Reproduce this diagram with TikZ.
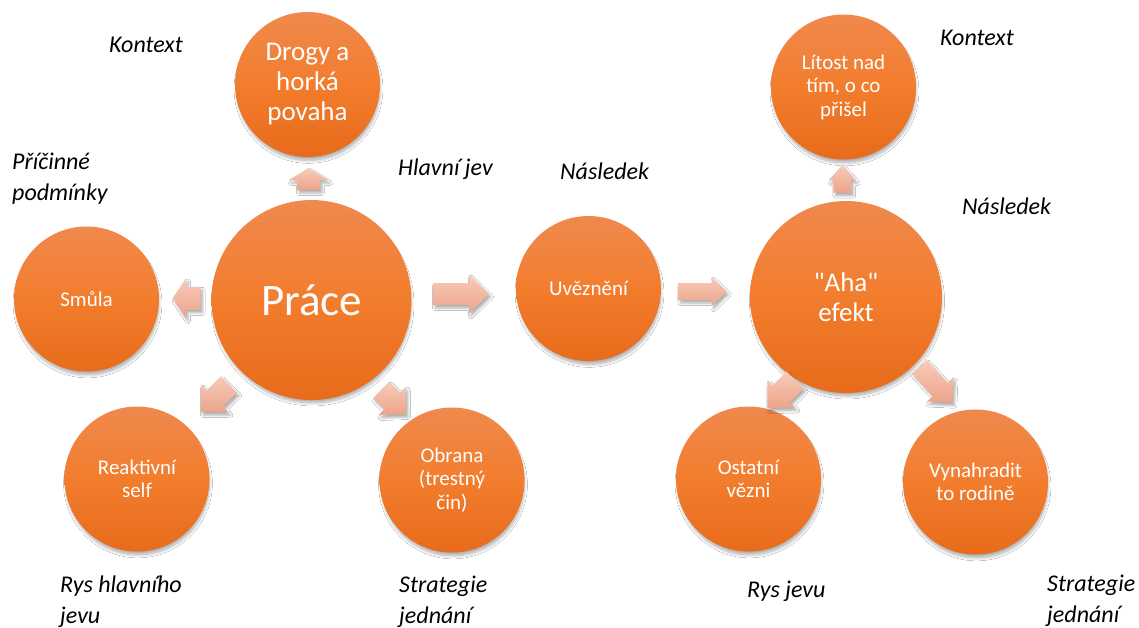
\documentclass[tikz,border=0pt]{standalone}
\usepackage{fontspec}
\setmainfont{Carlito}
\newfontfamily\plainquote{Carlito}[Ligatures=ResetAll]
\usetikzlibrary{calc,shadows.blur}
\definecolor{orTop}{HTML}{F0894E}
\definecolor{orMid}{HTML}{F27D2D}
\definecolor{orBot}{HTML}{E76B1B}
\definecolor{arTop}{HTML}{F8CBB9}
\definecolor{arBot}{HTML}{EBA48B}
\tikzset{
  circ/.style={circle, inner sep=0pt, text=white, align=center,
    top color=orTop, bottom color=orBot, middle color=orMid,
    blur shadow={shadow xshift=1pt, shadow yshift=-4.5pt, shadow scale=0.985, shadow blur radius=3pt, shadow blur steps=8, shadow opacity=32}},
  smalltxt/.style={font=\fontsize{21}{23.5}\selectfont},
  bigtxt/.style={font=\fontsize{27}{30}\selectfont},
  hugetxt/.style={font=\fontsize{45}{50}\selectfont},
  lbl/.style={font=\fontsize{24}{31}\selectfont\itshape, align=left, inner sep=0pt, anchor=base west},
  arr/.style={top color=arTop, bottom color=arBot, draw=none,
    blur shadow={shadow xshift=2pt, shadow yshift=-3pt, shadow blur radius=2.5pt, shadow opacity=32}},
}
\newcommand\sq{{\plainquote\symbol{34}}}
% #1 tail-middle coordinate, #2 tip coordinate, #3 half head width, #4 half shaft width, #5 head length
\newcommand\blockarrow[5]{%
  \coordinate (hb) at ($(#2)!#5!(#1)$);
  \path[arr] ($(#1)!#4!90:(#2)$) -- ($(hb)!#4!90:(#2)$) -- ($(hb)!#3!90:(#2)$) -- (#2)
    -- ($(hb)!#3!-90:(#2)$) -- ($(hb)!#4!-90:(#2)$) -- ($(#1)!#4!-90:(#2)$) -- cycle;
}
\begin{document}
\begin{tikzpicture}[x=1pt, y=-1pt]
\fill[white] (0,0) rectangle (1139,627);
\useasboundingbox (0,0) rectangle (1139,627);

% circles
\node[circ, minimum size=145pt, bigtxt] (drogy) at (307.5,84.5) {Drogy a\\horká\\povaha};
\node[circ, minimum size=200pt, hugetxt] (prace) at (311.5,300) {Práce};
\node[circ, minimum size=145pt, smalltxt] (smula) at (86.5,299) {Smůla};
\node[circ, minimum size=145pt, smalltxt] (reakt) at (137,479) {Reaktivní\\self};
\node[circ, minimum size=145pt, smalltxt] (obrana) at (452,480) {Obrana\\(trestný\\čin)};
\node[circ, minimum size=145pt, smalltxt] (uvez) at (588.5,288.5) {Uvěznění};
\node[circ, minimum size=145pt, smalltxt] (litost) at (843.5,87) {Lítost nad\\tím, o co\\přišel};
\node[circ, minimum size=192pt, bigtxt] (aha) at (846,297) {\sq Aha\sq\\efekt};
\node[circ, minimum size=145pt, smalltxt] (ostatni) at (748.5,479) {Ostatní\\vězni};
\node[circ, minimum size=145pt, smalltxt] (vynah) at (975.5,482) {Vynahradit\\to rodině};

% arrow end points
\coordinate (a1t) at (308.5,190);   \coordinate (a1p) at (308.5,168);
\coordinate (a2t) at (200.7,298.3); \coordinate (a2p) at (172.7,298.3);
\coordinate (a3t) at (433,294);     \coordinate (a3p) at (489,294);
\coordinate (a4t) at (229,384.5);   \coordinate (a4p) at (201,412);
\coordinate (a5t) at (381,390);     \coordinate (a5p) at (406,414);
\coordinate (a6t) at (678.3,291.5); \coordinate (a6p) at (726.7,291.5);
\coordinate (a7t) at (842.3,192.7); \coordinate (a7p) at (842.3,165);
\coordinate (a8t) at (795,380);     \coordinate (a8p) at (767.3,408);
\coordinate (a9t) at (919.5,366.7); \coordinate (a9p) at (952.3,402.7);

\blockarrow{a1t}{a1p}{19.5pt}{11.5pt}{12pt}
\blockarrow{a2t}{a2p}{20pt}{11.5pt}{13.3pt}
\blockarrow{a3t}{a3p}{19.5pt}{11pt}{20pt}
\blockarrow{a4t}{a4p}{19.5pt}{11.5pt}{19.5pt}
\blockarrow{a5t}{a5p}{19.5pt}{11.5pt}{19pt}
\blockarrow{a6t}{a6p}{14.7pt}{8.5pt}{15pt}
\blockarrow{a7t}{a7p}{13.4pt}{8.9pt}{15pt}
\blockarrow{a8t}{a8p}{19.5pt}{12pt}{20pt}
\blockarrow{a9t}{a9p}{18pt}{10pt}{18pt}

% labels (anchor is the baseline of the last line)
\node[lbl] (l1) at (109,52) {Kontext};
\node[lbl] (l2) at (12,200) {Příčinné\\podmínky};
\node[lbl] (l3) at (398,175) {Hlavní jev};
\node[lbl] (l4) at (560,179) {Následek};
\node[lbl] (l5) at (940,45) {Kontext};
\node[lbl] (l6) at (962,214) {Následek};
\node[lbl] (l7) at (60,623) {Rys hlavního\\jevu};
\node[lbl] (l8) at (399,623) {Strategie\\jednání};
\node[lbl] (l9) at (747,597) {Rys jevu};
\node[lbl] (l10) at (1047,622) {Strategie\\jednání};
\end{tikzpicture}
\end{document}
